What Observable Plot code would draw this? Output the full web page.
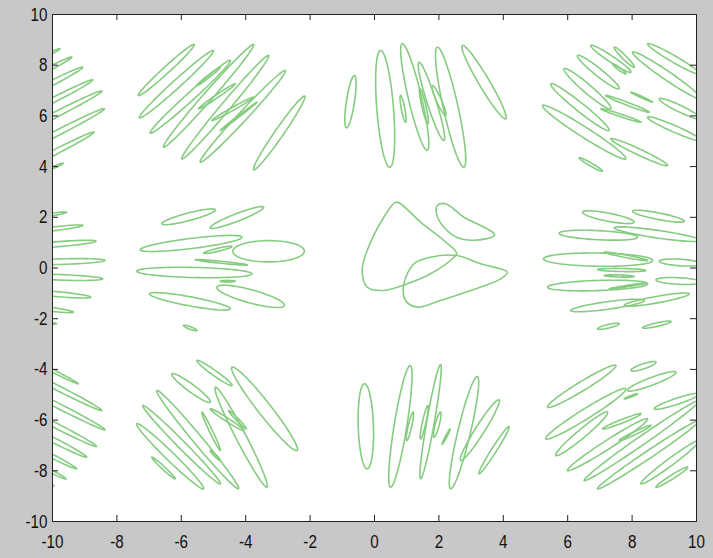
<!DOCTYPE html>
<html><head><meta charset="utf-8">
<script src="https://cdn.jsdelivr.net/npm/d3@7"></script>
<script src="https://cdn.jsdelivr.net/npm/@observablehq/plot@0.6"></script>
<style>
html,body{margin:0;padding:0;background:#c8c8c8;}
#chart{width:713px;height:558px;overflow:hidden;}
</style></head><body><div id="chart"></div>
<script>
const xTicks = [-10,-8,-6,-4,-2,0,2,4,6,8,10];
const yTicks = [-10,-8,-6,-4,-2,0,2,4,6,8,10];

// loops read as elongated ellipses: [x1, y1, x2, y2, halfWidth]
const clusterTopLeftEdge = [
[-11.2,7.72,-9.77,8.65,0.06],[-11.2,7.15,-9.40,8.32,0.08],[-11.2,6.53,-9.06,7.92,0.1],
[-11.2,5.83,-8.75,7.42,0.1],[-11.2,5.21,-8.47,6.98,0.11],[-11.2,4.45,-8.39,6.28,0.11],
[-11.2,3.74,-8.71,5.36,0.1],[-10.3,3.8,-9.66,4.13,0.04]];
const clusterTopLeft = [
[-7.331,6.805,-5.599,8.817,0.13],[-7.300,5.925,-4.998,8.580,0.16],[-6.967,5.318,-4.479,8.185,0.16],
[-6.554,4.766,-3.754,8.817,0.18],[-5.981,4.306,-3.288,8.383,0.18],[-5.412,4.175,-2.768,7.791,0.18],
[-3.754,3.872,-2.168,6.779,0.17],[-5.464,6.280,-4.324,7.266,0.06],[-5.048,5.819,-3.754,6.738,0.06],
[-5.515,7.199,-4.790,7.921,0.05],[-4.790,5.424,-3.649,6.541,0.03]];
const clusterTopMid = [
[-0.622,7.594,-0.871,5.531,0.16],[0.187,8.580,0.476,3.976,0.33],[0.861,8.844,1.639,4.635,0.26],
[1.379,8.118,2.156,5.030,0.18],[1.950,8.711,2.778,3.976,0.29],[2.728,8.777,4.075,5.884,0.21],
[0.809,6.805,0.964,5.752,0.07],[1.410,7.068,1.659,5.686,0.08],[1.794,7.199,2.208,6.016,0.1]];
const clusterTopRight = [
[5.216,6.410,7.807,4.308,0.2],[5.474,7.266,7.288,5.424,0.17],[5.889,7.858,7.341,6.280,0.17],
[6.304,8.383,7.599,7.069,0.15],[6.719,8.777,7.963,7.724,0.12],[7.444,8.711,8.065,7.922,0.08],
[8.015,8.515,10.14,6.674,0.17],[8.482,8.844,10.09,7.66,0.13],[8.843,6.674,10.14,5.886,0.13],
[8.482,5.949,10.14,5.030,0.13],[7.341,5.096,9.104,4.043,0.12],[6.355,4.347,7.082,3.819,0.06],
[7.185,6.805,8.532,6.146,0.06],[7.030,6.280,8.274,5.752,0.05],[7.963,6.935,8.638,6.541,0.03],
[7.393,8.055,7.807,7.660,0.05]];
const clusterMidLeftEdge = [
[-11.2,1.87,-9.56,2.20,0.06],[-11.2,1.36,-9.06,1.68,0.08],[-11.2,0.80,-8.65,1.06,0.1],
[-11.2,0.20,-8.37,0.30,0.11],[-11.2,-0.30,-8.44,-0.43,0.11],[-11.2,-0.88,-8.81,-1.15,0.1],
[-11.2,-1.45,-9.35,-1.74,0.08],[-10.5,-2.10,-9.87,-2.20,0.04]];
const clusterMidLeft = [
[-6.604,1.742,-4.946,2.295,0.15],[-5.101,1.584,-3.443,2.400,0.15],[-7.278,0.717,-4.116,1.216,0.2],
[-4.40,0.657,-2.177,0.664,0.42],[-7.381,-0.125,-3.804,-0.230,0.2],[-6.989,-1.019,-4.479,-1.611,0.18],
[-4.894,-0.757,-2.799,-1.479,0.26],[-5.931,-2.268,-5.515,-2.465,0.05],[-5.309,0.585,-4.426,0.848,0.06],
[-5.568,0.33,-3.95,0.12,0.04],[-4.790,-0.52,-4.324,-0.52,0.03]];
const clusterMidRight = [
[6.460,2.201,8.065,1.807,0.16],[8.015,2.241,9.621,1.846,0.13],[5.733,1.373,8.171,1.215,0.18],
[7.444,1.584,10.14,1.085,0.15],[5.247,0.362,8.638,0.296,0.26],[8.843,0.270,10.14,0.164,0.13],
[5.372,-0.757,8.482,-0.625,0.2],[8.740,-0.467,10.14,-0.559,0.13],[6.096,-1.677,8.376,-1.282,0.15],
[7.754,-1.479,9.776,-1.019,0.13],[6.926,-2.40,7.599,-2.20,0.07],[8.326,-2.36,9.207,-2.11,0.07],
[7.133,0.625,8.482,0.296,0.05],[6.926,-0.06,8.429,-0.099,0.06],[7.133,-0.296,8.065,-0.335,0.04],
[7.288,-0.822,8.429,-0.6,0.03]];
const clusterBotLeftEdge = [
[-11.2,-3.27,-9.20,-4.57,0.06],[-11.2,-3.85,-8.47,-5.62,0.1],[-11.2,-4.54,-8.37,-6.38,0.1],
[-11.2,-5.37,-8.63,-7.04,0.1],[-11.2,-5.99,-8.94,-7.46,0.1],[-11.2,-6.65,-9.25,-7.92,0.08],
[-11.2,-7.27,-9.58,-8.32,0.07],[-10.5,-8.30,-9.95,-8.60,0.03]];
const clusterBotLeft = [
[-6.915,-7.463,-6.190,-8.316,0.06],[-7.381,-6.146,-5.309,-8.710,0.17],[-7.195,-5.424,-4.789,-8.513,0.15],
[-6.760,-4.832,-4.221,-8.710,0.18],[-6.293,-4.174,-5.101,-5.293,0.15],[-5.515,-3.649,-4.426,-4.635,0.1],
[-4.426,-3.913,-2.404,-7.199,0.26],[-4.946,-4.701,-3.337,-8.646,0.2],[-5.360,-5.687,-4.790,-7.199,0.06],
[-5.101,-5.556,-4.065,-6.410,0.07],[-4.532,-5.621,-3.981,-6.345,0.05],[-5.101,-7.199,-4.790,-7.594,0.04]];
const clusterBotMid = [
[-0.311,-4.568,-0.227,-7.923,0.3],[0.498,-8.646,1.11,-3.846,0.25],[1.431,-8.316,2.053,-3.807,0.15],
[2.364,-8.710,3.194,-4.280,0.25],[2.675,-7.594,3.866,-5.2,0.18],[3.245,-8.118,4.178,-6.253,0.1],
[1.0,-6.805,1.2,-5.687,0.07],[1.431,-6.738,1.658,-5.424,0.07],[1.845,-6.674,2.053,-5.687,0.08],
[2.1,-6.95,2.35,-6.35,0.03]];
const clusterBotRight = [
[5.372,-5.491,7.496,-3.846,0.18],[7.963,-4.043,8.740,-3.716,0.1],[5.319,-6.738,7.807,-4.765,0.2],
[5.630,-7.396,7.237,-5.687,0.17],[7.86,-4.83,9.362,-4.109,0.15],[5.993,-7.988,8.482,-5.951,0.17],
[6.511,-8.383,10.09,-5.227,0.17],[6.926,-8.710,10.09,-6.016,0.15],[8.274,-8.514,10.09,-6.805,0.14],
[8.740,-8.646,9.726,-7.857,0.08],[8.688,-5.555,10.09,-4.963,0.12],[7.082,-6.345,8.274,-5.752,0.07],
[7.599,-6.805,8.585,-6.213,0.06],[7.754,-5.161,8.171,-4.963,0.03]];

// central irregular loops traced point by point
const centerTriangle = [[0.653,2.596],[0.289,2.004],[-0.227,0.690],[-0.383,-0.099],[-0.227,-0.757],[0.289,-0.888],[1.017,-0.623],[1.742,-0.229],[2.467,0.426],[2.551,0.584],[2.156,1.085],[1.431,1.807],[0.809,2.533]];
const centerLower = [[2.551,0.493],[3.297,0.164],[4.127,-0.164],[3.919,-0.427],[2.986,-0.888],[2.053,-1.282],[1.327,-1.545],[0.964,-1.282],[0.912,-0.623],[1.224,0.164],[1.742,0.427]];
const centerUpper = [[1.950,2.465],[2.208,2.533],[2.778,2.004],[3.505,1.545],[3.733,1.308],[3.453,1.150],[2.675,1.150],[2.156,1.611],[1.928,2.137]];

const W = 713, H = 558, mL = 52, mR = 17, mT = 14, mB = 37;
const kx = (W - mL - mR) / 20, ky = (H - mT - mB) / 20;
const N = 72;
function outline(e, id) {
  const [x1, y1, x2, y2, w] = e;
  const cx = (x1 + x2) / 2, cy = (y1 + y2) / 2;
  const ax = (x2 - x1) / 2 * kx, ay = (y2 - y1) / 2 * ky;
  const L = Math.hypot(ax, ay);
  const bx = -ay / L * w * ky, by = ax / L * w * ky;
  const pts = [];
  for (let i = 0; i <= N; i++) {
    const t = 2 * Math.PI * i / N, c = Math.cos(t), s = Math.sin(t);
    pts.push({x: cx + (ax * c + bx * s) / kx, y: cy + (ay * c + by * s) / ky, id});
  }
  return pts;
}
const allEllipses = [clusterTopLeftEdge, clusterTopLeft, clusterTopMid, clusterTopRight,
  clusterMidLeftEdge, clusterMidLeft, clusterMidRight,
  clusterBotLeftEdge, clusterBotLeft, clusterBotMid, clusterBotRight].flat();
const ellipsePts = allEllipses.flatMap((e, i) => outline(e, "e" + i));
const loopPts = [centerTriangle, centerLower, centerUpper].flatMap((loop, i) => loop.map(([x, y]) => ({x, y, id: "c" + i})));

const tl = 6;
const green = "#86cc80";
const chart = Plot.plot({
  width: W, height: H, marginLeft: mL, marginRight: mR, marginTop: mT, marginBottom: mB,
  x: {domain: [-10, 10], axis: null},
  y: {domain: [-10, 10], axis: null},
  style: {background: "#c8c8c8", fontFamily: "'Liberation Sans',Arial,sans-serif", fontSize: "19px", color: "#111"},
  marks: [
    Plot.frame({fill: "white"}),
    Plot.line(ellipsePts, {x: "x", y: "y", z: "id", stroke: green, strokeWidth: 1.6, clip: true}),
    Plot.line(loopPts, {x: "x", y: "y", z: "id", curve: "catmull-rom-closed", stroke: green, strokeWidth: 1.6}),
    Plot.ruleX(xTicks, {x: d => d, y1: -10, y2: -10 + tl / ky, stroke: "#222"}),
    Plot.ruleX(xTicks, {x: d => d, y1: 10 - tl / ky, y2: 10, stroke: "#222"}),
    Plot.ruleY(yTicks, {y: d => d, x1: -10, x2: -10 + tl / kx, stroke: "#222"}),
    Plot.ruleY(yTicks, {y: d => d, x1: 10 - tl / kx, x2: 10, stroke: "#222"}),
    Plot.frame({stroke: "#222", strokeWidth: 1}),
    Plot.text(xTicks, {x: d => d, y: -10, dy: 20, text: d => String(d), fill: "#111"}),
    Plot.text(yTicks, {x: -10, y: d => d, dx: -5, textAnchor: "end", text: d => String(d), fill: "#111"})
  ]
});
// condense the tick-label glyphs horizontally, like the narrow reference font
d3.select(chart).selectAll("text").each(function () {
  const t = this.getAttribute("transform");
  if (t) {
    this.setAttribute("transform", t + " scale(0.8,1)");
  } else {
    const x = +this.getAttribute("x") || 0, y = +this.getAttribute("y") || 0;
    this.removeAttribute("x"); this.removeAttribute("y");
    this.setAttribute("transform", `translate(${x},${y}) scale(0.8,1)`);
  }
});
document.getElementById("chart").appendChild(chart);
</script></body></html>
